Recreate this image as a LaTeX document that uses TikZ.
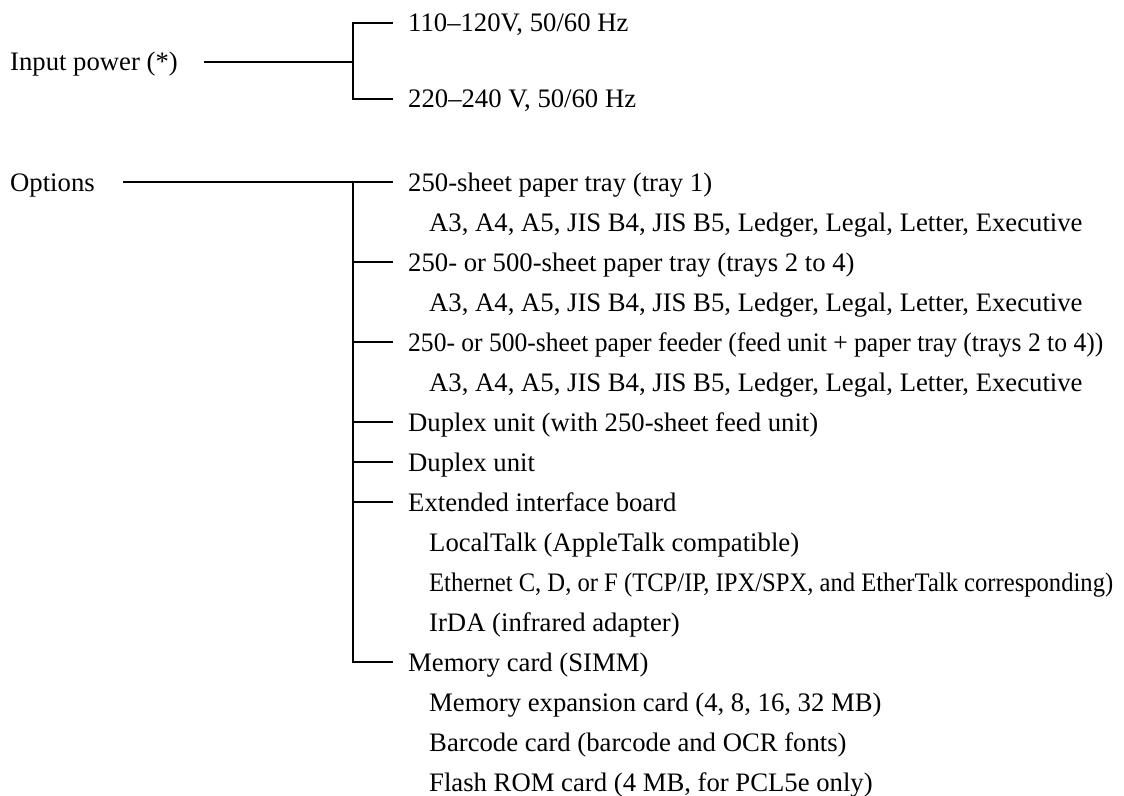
\documentclass[tikz,border=0pt]{standalone}
\usepackage{graphicx}
\usepackage{fontspec}
\setmainfont{Liberation Serif}
\newcommand\treefont{\fontsize{26.7bp}{32bp}\selectfont}
% set a long line condensed to a given width, height unchanged
\newcommand\condensed[2]{\resizebox{#1}{\height}{#2}}
\begin{document}
\begin{tikzpicture}[x=1bp,y=-1bp,
  lbl/.style={anchor=base west, inner sep=0pt, font=\treefont},
  wire/.style={line width=1.2bp, line cap=butt}]
\useasboundingbox (0,0) rectangle (1124,796);

% ---- input power ----
\node[lbl] (ip) at (10,71)  {Input power (*)};
\node[lbl] (v1) at (408,32) {110–120V, 50/60 Hz};
\node[lbl] (v2) at (408,108) {220–240 V, 50/60 Hz};
\coordinate (pj) at (353,62);
\draw[wire] ([shift={(26,-9)}]ip.base east) -- (pj);
\draw[wire] ([shift={(-15,-9)}]v1.base west) -| (pj) |- ([shift={(-15,-9)}]v2.base west);

% ---- options ----
\node[lbl] (op) at (10,191) {Options};
\def\mx{408}
\def\sx{429}
\node[lbl] (o0)  at (\mx,191) {250-sheet paper tray (tray 1)};
\node[lbl] (o1)  at (\sx,231) {A3, A4, A5, JIS B4, JIS B5, Ledger, Legal, Letter, Executive};
\node[lbl] (o2)  at (\mx,271) {250- or 500-sheet paper tray (trays 2 to 4)};
\node[lbl] (o3)  at (\sx,311) {A3, A4, A5, JIS B4, JIS B5, Ledger, Legal, Letter, Executive};
\node[lbl] (o4)  at (\mx,351) {\condensed{695bp}{250- or 500-sheet paper feeder (feed unit + paper tray (trays 2 to 4))}};
\node[lbl] (o5)  at (\sx,391) {A3, A4, A5, JIS B4, JIS B5, Ledger, Legal, Letter, Executive};
\node[lbl] (o6)  at (\mx,431) {Duplex unit (with 250-sheet feed unit)};
\node[lbl] (o7)  at (\mx,471) {Duplex unit};
\node[lbl] (o8)  at (\mx,511) {Extended interface board};
\node[lbl] (o9)  at (\sx,551) {LocalTalk (AppleTalk compatible)};
\node[lbl] (o10) at (\sx,591) {\condensed{684bp}{Ethernet C, D, or F (TCP/IP, IPX/SPX, and EtherTalk corresponding)}};
\node[lbl] (o11) at (\sx,631) {IrDA (infrared adapter)};
\node[lbl] (o12) at (\mx,671) {Memory card (SIMM)};
\node[lbl] (o13) at (\sx,711) {Memory expansion card (4, 8, 16, 32 MB)};
\node[lbl] (o14) at (\sx,751) {Barcode card (barcode and OCR fonts)};
\node[lbl] (o15) at (\sx,791) {Flash ROM card (4 MB, for PCL5e only)};

\coordinate (oj) at (353,182);
% main line into the first option, and the vertical bar down to the last one
\draw[wire] ([shift={(28,-9)}]op.base east) -- ([shift={(-15,-9)}]o0.base west);
\draw[wire] (oj) |- ([shift={(-15,-9)}]o12.base west);
% stubs for the remaining options
\foreach \n in {o2,o4,o6,o7,o8}
  \draw[wire] ([shift={(-15,-9)}]\n.base west) coordinate (s) -- (oj |- s);
\end{tikzpicture}
\end{document}
